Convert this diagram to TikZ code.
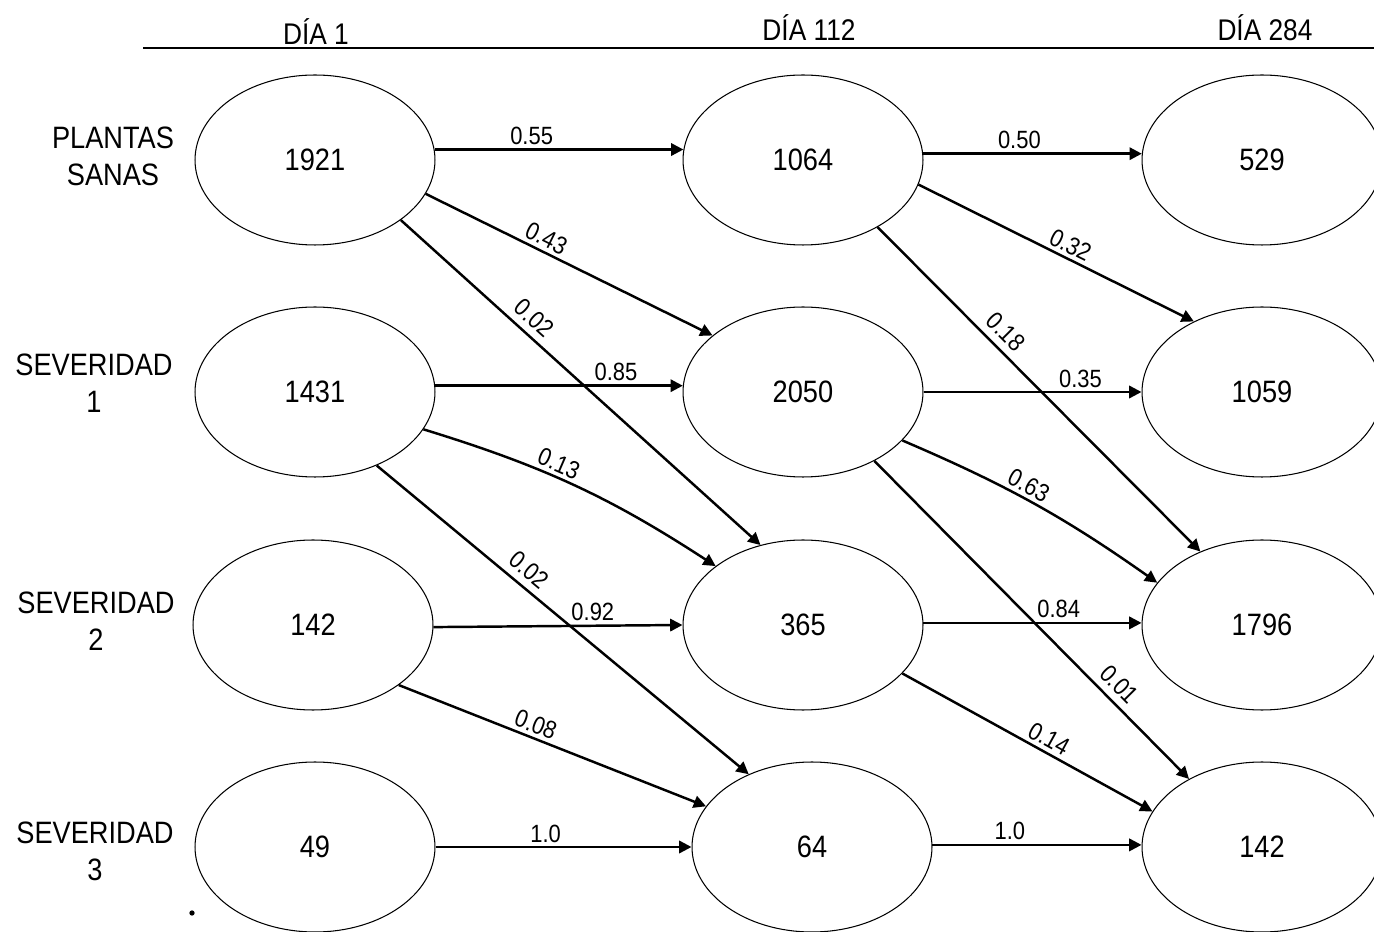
\documentclass[tikz,border=0pt]{standalone}
\usepackage{fontspec}
\setmainfont{Liberation Sans}[FakeStretch=0.88]
\usetikzlibrary{arrows.meta,shapes.geometric}

\begin{document}
\begin{tikzpicture}[
  x=0.02cm, y=-0.02cm,
  >={Triangle[length=7pt,width=7pt]},
  state/.style={draw=black,ellipse,minimum width=4.8cm,minimum height=3.4cm,
                inner sep=0pt,line width=0.6pt,font=\fontsize{17.6}{20}\selectfont},
  rowlab/.style={align=center,font=\fontsize{17.6}{21}\selectfont},
  daylab/.style={anchor=base,font=\fontsize{17}{20}\selectfont},
  prob/.style={font=\fontsize{14.2}{16}\selectfont,inner sep=2pt},
  flow/.style={->,line width=1.4pt},
  dotmark/.style={circle,fill=black,inner sep=0pt,minimum size=3pt}
]
\useasboundingbox (0,0) rectangle (1374,932);

%% ── Header ──
\coordinate (hl) at (143,48);
\coordinate (hr) at (1374,48);
\draw[line width=1pt] (hl) -- (hr);
\node[daylab] (d1)   at (316,45) {DÍA 1};
\node[daylab] (d112) at (809,41) {DÍA 112};
\node[daylab] (d284) at (1265,41) {DÍA 284};

%% ── Row labels ──
\node[rowlab] (rs)  at (113,156) {PLANTAS\\SANAS};
\node[rowlab] (rv1) at (94,383)  {SEVERIDAD\\1};
\node[rowlab] (rv2) at (96,621)  {SEVERIDAD\\2};
\node[rowlab] (rv3) at (95,851)  {SEVERIDAD\\3};

%% ── States (all at explicit absolute coordinates) ──
\node[state] (A1) at (315,160) {1921};
\node[state] (A2) at (315,392) {1431};
\node[state] (A3) at (313,625) {142};
\node[state] (A4) at (315,847) {49};

\node[state] (B1) at (803,160) {1064};
\node[state] (B2) at (803,392) {2050};
\node[state] (B3) at (803,625) {365};
\node[state] (B4) at (812,847) {64};

\node[state] (C1) at (1262,160) {529};
\node[state] (C2) at (1262,392) {1059};
\node[state] (C3) at (1262,625) {1796};
\node[state] (C4) at (1262,847) {142};

\node[dotmark] (stray) at (192,913) {};

%% ── Day 1 -> Day 112 ──
\draw[flow] (A1.5)   -- node[prob,pos=.39,above]{0.55} (B1.175);
\draw[flow] (A1.-17) -- node[prob,pos=.40,above,sloped]{0.43} (B2.148);
\draw[flow] (A1.-35) -- node[prob,pos=.34,above,sloped,yshift=2pt]{0.02} (B3.118);
\draw[flow] (A2.3)   -- node[prob,pos=.73,above]{0.85} (B2.177);
\draw[flow] (A2.-19) to[bend left=8] node[prob,pos=.42,above,sloped]{0.13} (B3.146);
\draw[flow] (A2.-50) -- node[prob,pos=.38,above,sloped,yshift=2pt]{0.02} (B4.131);
\draw[flow] (A3.-1)  -- node[prob,pos=.64,above]{0.92} (B3.180);
\draw[flow] (A3.-35) -- node[prob,pos=.43,above,sloped]{0.08} (B4.159);
\draw[flow] (A4.0)   -- node[prob,pos=.43,above]{1.0} (B4.180);

%% ── Day 112 -> Day 284 ──
\draw[flow] (B1.3)   -- node[prob,pos=.44,above]{0.50} (C1.177);
\draw[flow] (B1.-12) -- node[prob,pos=.53,above,sloped]{0.32} (C2.134);
\draw[flow] (B1.-42) -- node[prob,pos=.36,above,sloped,yshift=2pt]{0.18} (C3.130);
\draw[flow] (B2.0)   -- node[prob,pos=.72,above]{0.35} (C2.180);
\draw[flow] (B2.-26) to[bend left=6] node[prob,pos=.45,above,sloped]{0.63} (C3.158);
\draw[flow] (B2.-44) -- node[prob,pos=.74,above,sloped,yshift=2pt]{0.01} (C4.137);
\draw[flow] (B3.1)   -- node[prob,pos=.62,above]{0.84} (C3.179);
\draw[flow] (B3.-26) -- node[prob,pos=.56,above,sloped]{0.14} (C4.162);
\draw[flow] (B4.1)   -- node[prob,pos=.37,above]{1.0} (C4.179);

\end{tikzpicture}
\end{document}
